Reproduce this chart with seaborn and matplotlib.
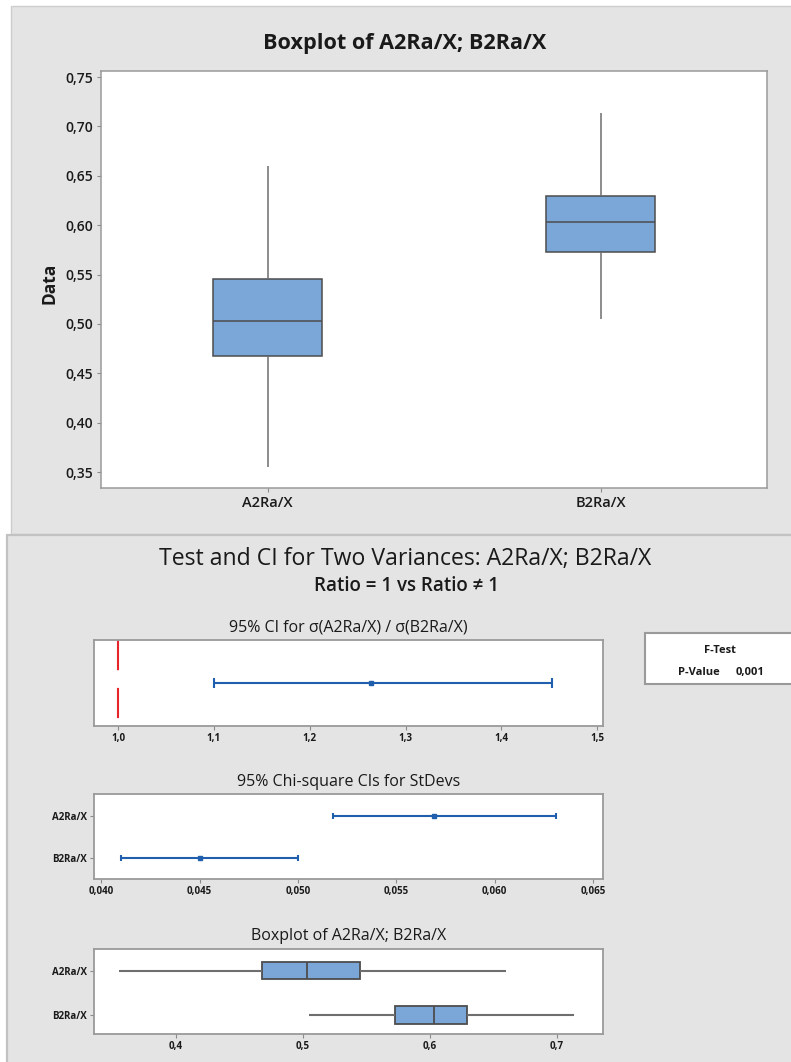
import numpy as np
import pandas as pd
import matplotlib
matplotlib.use("Agg")
import matplotlib.pyplot as plt
from matplotlib.patches import Rectangle
from matplotlib.ticker import FixedLocator, FuncFormatter
import seaborn as sns

# ---- data -------------------------------------------------------------
groups = ["A2Ra/X", "B2Ra/X"]
# five-number summaries: min, Q1, median, Q3, max
a2ra = [0.355, 0.4675, 0.503, 0.545, 0.660]
b2ra = [0.505, 0.5725, 0.6035, 0.6295, 0.7135]

ratio_ci = [1.100, 1.264, 1.453]        # lower, estimate, upper of sigma ratio
sd_ci_a = [0.0518, 0.0569, 0.0631]      # chi-square CI for StDev of A2Ra/X
sd_ci_b = [0.0410, 0.0450, 0.0500]      # chi-square CI for StDev of B2Ra/X
p_value = "0,001"

top_yticks = [0.35, 0.40, 0.45, 0.50, 0.55, 0.60, 0.65, 0.70, 0.75]
ratio_ticks = [1.0, 1.1, 1.2, 1.3, 1.4, 1.5]
sd_ticks = [0.040, 0.045, 0.050, 0.055, 0.060, 0.065]
box_ticks = [0.4, 0.5, 0.6, 0.7]

# ---- style ------------------------------------------------------------
sns.set_theme(style="white")
plt.rcParams["font.family"] = ["Open Sans", "DejaVu Sans"]

W, H = 791, 1062
PANEL = "#e4e4e4"
BOX_BLUE = "#7ba6d8"
EDGE = "#4d4d4d"
WHISK = "#6e6e6e"
SPINE = "#9a9a9a"
BLUE = "#1f5fad"
RED = "#e8242b"
TXT = "#1a1a1a"

fig = plt.figure(figsize=(W / 100, H / 100), dpi=100)
fig.patch.set_facecolor("white")


def px_axes(l, t, r, b):
    return fig.add_axes([l / W, 1 - b / H, (r - l) / W, (b - t) / H])


def px_rect(l, t, r, b, **kw):
    rect = Rectangle((l / W, 1 - b / H), (r - l) / W, (b - t) / H,
                     transform=fig.transFigure, **kw)
    fig.patches.append(rect)
    return rect


def comma(fmt):
    return FuncFormatter(lambda v, _: format(v, fmt).replace(".", ","))


def fig_text(x, y, s, **kw):
    fig.text(x / W, 1 - y / H, s, **kw)


# panel backgrounds
px_rect(11, 6, 800, 534, facecolor=PANEL, edgecolor="#cdcdcd", lw=1, zorder=-2)
px_rect(7, 535, 800, 1070, facecolor=PANEL, edgecolor="#c2c2c2", lw=1.6, zorder=-2)

# ---- upper chart: vertical boxplot ------------------------------------
df = pd.DataFrame({"group": np.repeat(groups, 5), "value": a2ra + b2ra})

ax = px_axes(101, 71, 767, 488)
sns.boxplot(data=df, x="group", y="value", ax=ax, whis=(0, 100), width=0.33,
            color=BOX_BLUE, saturation=1, linecolor=EDGE, linewidth=1.1,
            showcaps=False, fliersize=0,
            whiskerprops=dict(color=WHISK, linewidth=1.1))
ax.set_xlim(-0.5, 1.5)
ax.set_ylim(0.3338, 0.7562)
ax.yaxis.set_major_locator(FixedLocator(top_yticks))
ax.yaxis.set_major_formatter(comma(".2f"))
ax.set_xlabel("")
ax.set_ylabel("Data", fontsize=12.5, fontweight="bold", color=TXT)
ax.yaxis.set_label_coords(-0.064, 0.49)
ax.tick_params(axis="both", which="major", length=3, width=0.8, color="#8a8a8a",
               labelsize=10, labelcolor=TXT, pad=3, left=True, bottom=True)
ax.tick_params(axis="x", labelsize=10.5)
for lab in ax.get_xticklabels() + ax.get_yticklabels():
    lab.set_fontweight("semibold")
for sp in ax.spines.values():
    sp.set_color(SPINE)
    sp.set_linewidth(1.1)
ax.set_facecolor("white")

fig_text(405, 49, "Boxplot of A2Ra/X; B2Ra/X", ha="center", va="baseline",
         fontsize=15.6, fontweight="bold", color=TXT)

# ---- lower panel ------------------------------------------------------
fig_text(405, 565, "Test and CI for Two Variances: A2Ra/X; B2Ra/X",
         ha="center", va="baseline", fontsize=16.6, color=TXT)
fig_text(406, 591, "Ratio = 1 vs Ratio \u2260 1", ha="center", va="baseline",
         fontsize=13.5, fontweight="semibold", color=TXT)


def style_small(a):
    a.set_facecolor("white")
    for sp in a.spines.values():
        sp.set_color(SPINE)
        sp.set_linewidth(1.3)
    a.tick_params(axis="both", length=3, width=0.8, color="#8a8a8a",
                  labelsize=7, labelcolor=TXT, pad=2)
    for lab in a.get_xticklabels() + a.get_yticklabels():
        lab.set_fontweight("bold")


# ratio of standard deviations
ax1 = px_axes(94, 640, 603, 726)
ax1.axvline(1.0, ymin=1, ymax=0, color=RED, lw=1.5, ls=(0, (14.5, 8.5)))
ax1.errorbar(ratio_ci[1], 0.5,
             xerr=[[ratio_ci[1] - ratio_ci[0]], [ratio_ci[2] - ratio_ci[1]]],
             fmt="s", ms=2.5, color=BLUE, ecolor=BLUE, elinewidth=1.5,
             capsize=3.5, capthick=1.5)
ax1.set_xlim(0.975, 1.506)
ax1.set_ylim(0, 1)
ax1.set_yticks([])
ax1.xaxis.set_major_locator(FixedLocator(ratio_ticks))
ax1.xaxis.set_major_formatter(comma(".1f"))
ax1.set_title("95% CI for \u03c3(A2Ra/X) / \u03c3(B2Ra/X)", fontsize=11.5,
              color=TXT, pad=6)
style_small(ax1)

# chi-square intervals for the standard deviations
ax2 = px_axes(94, 794, 603, 879)
for pos, ci in enumerate([sd_ci_a, sd_ci_b]):
    ax2.errorbar(ci[1], pos, xerr=[[ci[1] - ci[0]], [ci[2] - ci[1]]],
                 fmt="s", ms=2.5, color=BLUE, ecolor=BLUE, elinewidth=1.5,
                 capsize=2, capthick=1.5)
ax2.set_xlim(0.03964, 0.0655)
ax2.set_ylim(1.5, -0.52)
ax2.set_yticks([0, 1])
ax2.set_yticklabels(groups)
ax2.xaxis.set_major_locator(FixedLocator(sd_ticks))
ax2.xaxis.set_major_formatter(comma(".3f"))
ax2.set_title("95% Chi-square CIs for StDevs", fontsize=11.5, color=TXT, pad=6)
style_small(ax2)

# horizontal boxplot of both samples
ax3 = px_axes(94, 949, 603, 1034)
sns.boxplot(data=df, x="value", y="group", orient="h", ax=ax3, whis=(0, 100),
            width=0.39, color=BOX_BLUE, saturation=1, linecolor=EDGE,
            linewidth=1.3, showcaps=False, fliersize=0,
            whiskerprops=dict(color=WHISK, linewidth=1.5))
ax3.set_xlim(0.3354, 0.7362)
ax3.set_ylim(1.43, -0.49)
ax3.set_xlabel("")
ax3.set_ylabel("")
ax3.xaxis.set_major_locator(FixedLocator(box_ticks))
ax3.xaxis.set_major_formatter(comma(".1f"))
ax3.set_title("Boxplot of A2Ra/X; B2Ra/X", fontsize=11.5, color=TXT, pad=6.5)
style_small(ax3)
ax3.tick_params(left=True, bottom=True)
ax2.tick_params(left=True, bottom=True)
ax1.tick_params(bottom=True)

# F-test summary box
px_rect(645, 633, 800, 684, facecolor="white", edgecolor=SPINE, lw=1.5, zorder=1)
fig_text(720, 653, "F-Test", ha="center", va="baseline", fontsize=8,
         fontweight="bold", color=TXT)
fig_text(699, 675, "P-Value", ha="center", va="baseline", fontsize=8,
         fontweight="bold", color=TXT)
fig_text(750, 675, p_value, ha="center", va="baseline", fontsize=8,
         fontweight="bold", color=TXT)

fig.savefig("out.png", dpi=100)
